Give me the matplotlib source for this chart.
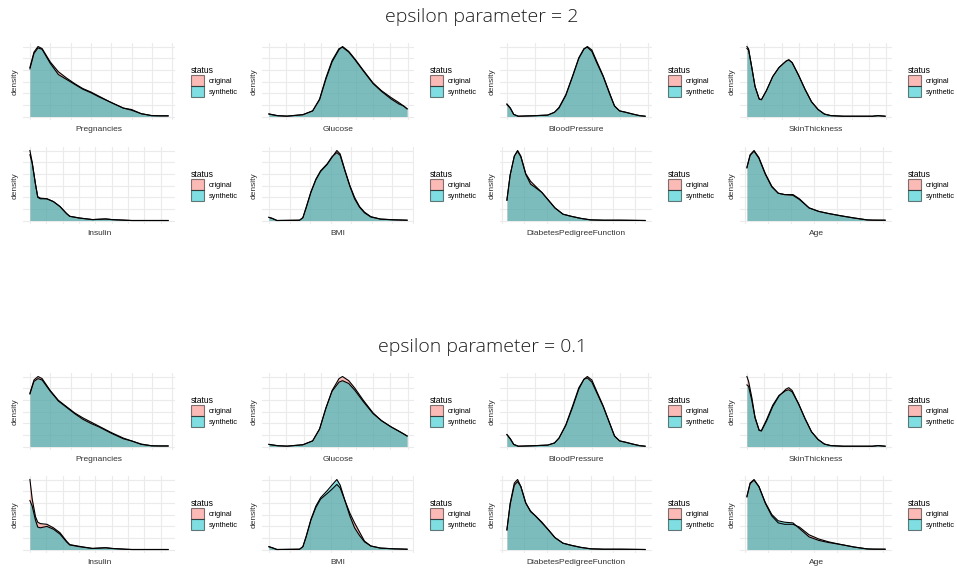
import numpy as np
import matplotlib.pyplot as plt
from matplotlib.patches import Patch
from matplotlib.ticker import MultipleLocator

plt.rcParams['font.family'] = ['Liberation Sans', 'DejaVu Sans']

# relative density curves (peak of each panel ~ 1)
preg_x = [0, 0.5, 1, 1.5, 2.5, 3.5, 4.5, 5.5, 6.5, 7.5, 8.5, 10, 11.5, 12.5, 13.7, 15, 16, 17]
preg_orig_2 = [0.70, 0.92, 1.0, 0.97, 0.78, 0.64, 0.55, 0.47, 0.40, 0.35, 0.29, 0.20, 0.12, 0.10, 0.04, 0.013, 0.01, 0.01]
preg_syn_2 = [0.68, 0.90, 0.98, 0.96, 0.76, 0.60, 0.53, 0.46, 0.39, 0.34, 0.28, 0.20, 0.12, 0.09, 0.04, 0.012, 0.01, 0.01]
preg_orig_01 = [0.76, 0.95, 1.0, 0.97, 0.80, 0.66, 0.57, 0.48, 0.41, 0.35, 0.29, 0.20, 0.12, 0.08, 0.035, 0.01, 0.008, 0.008]
preg_syn_01 = [0.75, 0.93, 0.97, 0.95, 0.79, 0.65, 0.56, 0.47, 0.39, 0.33, 0.28, 0.19, 0.11, 0.08, 0.03, 0.01, 0.008, 0.008]

gluc_x = [0, 12, 26, 49, 63, 73, 82, 91, 101, 106, 115, 124, 136, 150, 162, 176, 187, 194, 199]
gluc_orig_2 = [0.036, 0.013, 0.005, 0.027, 0.08, 0.24, 0.53, 0.78, 0.955, 1.0, 0.93, 0.82, 0.66, 0.48, 0.37, 0.27, 0.20, 0.15, 0.11]
gluc_syn_2 = [0.036, 0.012, 0.005, 0.025, 0.08, 0.25, 0.55, 0.80, 0.97, 0.99, 0.92, 0.81, 0.65, 0.47, 0.36, 0.25, 0.18, 0.15, 0.11]
gluc_orig_01 = [0.03, 0.012, 0.005, 0.025, 0.08, 0.25, 0.54, 0.80, 0.97, 1.0, 0.94, 0.83, 0.66, 0.48, 0.37, 0.28, 0.22, 0.18, 0.15]
gluc_syn_01 = [0.03, 0.012, 0.005, 0.025, 0.08, 0.25, 0.55, 0.79, 0.92, 0.94, 0.90, 0.80, 0.64, 0.47, 0.37, 0.28, 0.22, 0.18, 0.15]

bp_x = [0, 3, 6, 10, 22, 36, 42, 46, 52, 58, 63.5, 68, 71, 75, 79, 85, 91, 95, 99.5, 105, 111, 117, 122]
bp_orig_2 = [0.18, 0.12, 0.03, 0.004, 0.01, 0.02, 0.06, 0.12, 0.30, 0.57, 0.83, 0.96, 1.0, 0.95, 0.80, 0.58, 0.32, 0.15, 0.08, 0.06, 0.035, 0.013, 0.004]
bp_syn_2 = [0.17, 0.12, 0.03, 0.004, 0.01, 0.02, 0.06, 0.13, 0.31, 0.58, 0.84, 0.97, 0.99, 0.93, 0.78, 0.57, 0.31, 0.15, 0.08, 0.06, 0.035, 0.013, 0.004]
bp_orig_01 = [0.17, 0.11, 0.03, 0.004, 0.01, 0.02, 0.05, 0.12, 0.30, 0.56, 0.82, 0.96, 1.0, 0.95, 0.80, 0.58, 0.32, 0.15, 0.08, 0.06, 0.035, 0.013, 0.004]
bp_syn_01 = [0.17, 0.11, 0.03, 0.004, 0.01, 0.02, 0.05, 0.12, 0.31, 0.58, 0.84, 0.96, 0.98, 0.92, 0.78, 0.57, 0.32, 0.15, 0.08, 0.06, 0.035, 0.013, 0.004]

skin_x = [0, 1.2, 3.5, 5.8, 8.8, 10.4, 14, 18.5, 23, 28, 30, 32.4, 37, 41.6, 46.3, 51, 55.5, 60, 69, 90, 94, 99]
skin_orig_2 = [1.0, 0.965, 0.70, 0.43, 0.25, 0.24, 0.37, 0.57, 0.70, 0.79, 0.81, 0.77, 0.59, 0.39, 0.21, 0.10, 0.035, 0.013, 0.004, 0.004, 0.013, 0.004]
skin_syn_2 = [0.97, 0.95, 0.70, 0.43, 0.25, 0.24, 0.37, 0.57, 0.70, 0.79, 0.81, 0.77, 0.59, 0.39, 0.21, 0.10, 0.035, 0.013, 0.004, 0.004, 0.012, 0.004]
skin_orig_01 = [1.0, 0.93, 0.70, 0.42, 0.23, 0.22, 0.36, 0.57, 0.72, 0.82, 0.84, 0.80, 0.61, 0.40, 0.21, 0.10, 0.035, 0.013, 0.004, 0.004, 0.013, 0.004]
skin_syn_01 = [0.88, 0.86, 0.66, 0.41, 0.23, 0.23, 0.38, 0.59, 0.73, 0.80, 0.81, 0.78, 0.61, 0.40, 0.21, 0.10, 0.035, 0.013, 0.004, 0.004, 0.013, 0.004]

ins_x = [0, 14, 34, 48, 64, 104, 144, 184, 224, 244, 303, 383, 463, 503, 583, 623, 846]
ins_orig_2 = [1.0, 0.83, 0.52, 0.33, 0.31, 0.31, 0.27, 0.20, 0.10, 0.06, 0.036, 0.013, 0.022, 0.013, 0.004, 0.0, 0.0]
ins_syn_2 = [0.94, 0.82, 0.52, 0.34, 0.32, 0.31, 0.27, 0.20, 0.10, 0.06, 0.035, 0.013, 0.022, 0.013, 0.004, 0.0, 0.0]
ins_orig_01 = [1.0, 0.72, 0.47, 0.39, 0.37, 0.36, 0.31, 0.24, 0.12, 0.07, 0.045, 0.015, 0.025, 0.015, 0.004, 0.0, 0.0]
ins_syn_01 = [0.70, 0.62, 0.42, 0.32, 0.31, 0.33, 0.29, 0.22, 0.11, 0.065, 0.04, 0.015, 0.025, 0.015, 0.004, 0.0, 0.0]

bmi_x = [0, 1.6, 3.9, 14.9, 16.5, 18.1, 20.4, 22.8, 25.1, 28.3, 30.6, 33.0, 34.6, 36.9, 39.3, 41.6, 44.0, 46.4, 49.5, 54.2, 60.5, 67.1]
bmi_orig_2 = [0.045, 0.03, 0.0, 0.004, 0.04, 0.18, 0.40, 0.58, 0.70, 0.80, 0.90, 1.0, 0.95, 0.72, 0.50, 0.33, 0.20, 0.12, 0.055, 0.02, 0.01, 0.004]
bmi_syn_2 = [0.045, 0.03, 0.0, 0.004, 0.04, 0.19, 0.41, 0.59, 0.71, 0.81, 0.91, 0.97, 0.93, 0.71, 0.49, 0.31, 0.19, 0.11, 0.05, 0.02, 0.01, 0.004]
bmi_orig_01 = [0.04, 0.025, 0.0, 0.004, 0.04, 0.18, 0.42, 0.60, 0.72, 0.80, 0.86, 0.93, 0.88, 0.70, 0.52, 0.38, 0.25, 0.12, 0.05, 0.02, 0.01, 0.004]
bmi_syn_01 = [0.04, 0.025, 0.0, 0.004, 0.04, 0.19, 0.43, 0.62, 0.74, 0.84, 0.92, 1.0, 0.92, 0.70, 0.48, 0.31, 0.20, 0.11, 0.05, 0.02, 0.01, 0.004]

dpf_x = [0.078, 0.133, 0.204, 0.259, 0.314, 0.397, 0.479, 0.562, 0.672, 0.782, 0.892, 1.029, 1.167, 1.332, 1.497, 1.716, 1.991, 2.42]
dpf_orig_2 = [0.29, 0.65, 0.92, 1.0, 0.92, 0.67, 0.56, 0.49, 0.40, 0.29, 0.18, 0.09, 0.06, 0.03, 0.009, 0.004, 0.004, 0.0]
dpf_syn_2 = [0.29, 0.65, 0.92, 0.99, 0.91, 0.66, 0.52, 0.47, 0.40, 0.29, 0.18, 0.09, 0.06, 0.03, 0.009, 0.004, 0.004, 0.0]
dpf_orig_01 = [0.28, 0.66, 0.95, 1.0, 0.90, 0.66, 0.55, 0.48, 0.39, 0.28, 0.17, 0.09, 0.06, 0.03, 0.01, 0.004, 0.004, 0.0]
dpf_syn_01 = [0.28, 0.64, 0.92, 0.97, 0.90, 0.67, 0.54, 0.48, 0.38, 0.28, 0.17, 0.09, 0.06, 0.03, 0.01, 0.004, 0.004, 0.0]

age_x = [21, 22.4, 24.1, 26.2, 29, 31.8, 34.6, 37.4, 41, 43.8, 48, 52.2, 56.4, 62, 67.6, 73.3, 76, 81]
age_orig_2 = [0.76, 0.94, 1.0, 0.90, 0.67, 0.49, 0.39, 0.37, 0.37, 0.31, 0.18, 0.13, 0.10, 0.067, 0.036, 0.008, 0.005, 0.004]
age_syn_2 = [0.75, 0.93, 0.99, 0.89, 0.66, 0.48, 0.39, 0.37, 0.36, 0.30, 0.18, 0.13, 0.10, 0.065, 0.035, 0.008, 0.005, 0.004]
age_orig_01 = [0.76, 0.95, 1.0, 0.90, 0.66, 0.48, 0.38, 0.36, 0.36, 0.32, 0.21, 0.15, 0.11, 0.07, 0.035, 0.008, 0.005, 0.004]
age_syn_01 = [0.75, 0.94, 0.99, 0.90, 0.67, 0.50, 0.41, 0.39, 0.38, 0.30, 0.18, 0.13, 0.10, 0.07, 0.035, 0.008, 0.005, 0.004]

variables = ['Pregnancies', 'Glucose', 'BloodPressure', 'SkinThickness',
             'Insulin', 'BMI', 'DiabetesPedigreeFunction', 'Age']
x_values = [preg_x, gluc_x, bp_x, skin_x, ins_x, bmi_x, dpf_x, age_x]
grid_steps = [2.5, 25, 25, 12.5, 100, 10, 0.375, 10]
eps_titles = ['epsilon parameter = 2', 'epsilon parameter = 0.1']
orig_curves = [
    [preg_orig_2, gluc_orig_2, bp_orig_2, skin_orig_2, ins_orig_2, bmi_orig_2, dpf_orig_2, age_orig_2],
    [preg_orig_01, gluc_orig_01, bp_orig_01, skin_orig_01, ins_orig_01, bmi_orig_01, dpf_orig_01, age_orig_01],
]
syn_curves = [
    [preg_syn_2, gluc_syn_2, bp_syn_2, skin_syn_2, ins_syn_2, bmi_syn_2, dpf_syn_2, age_syn_2],
    [preg_syn_01, gluc_syn_01, bp_syn_01, skin_syn_01, ins_syn_01, bmi_syn_01, dpf_syn_01, age_syn_01],
]

pink = '#F8766D'
teal = '#00BFC4'
W, H = 957, 570

fig = plt.figure(figsize=(W / 100, H / 100), dpi=100)

col_left = [23, 262, 500, 740]
block_rows = [[43, 147], [373, 476]]
title_y = [17, 347]
panel_w, panel_h = 152, 77


def draw_panel(ax, x, orig, syn, name, step):
    ax.fill_between(x, orig, color=pink, alpha=0.5, lw=0)
    ax.plot(x, orig, color='black', lw=0.8)
    ax.fill_between(x, syn, color=teal, alpha=0.5, lw=0)
    ax.plot(x, syn, color='black', lw=0.8)
    xr = x[-1] - x[0]
    ax.set_xlim(x[0] - 0.05 * xr, x[-1] + 0.05 * xr)
    ymax = max(max(orig), max(syn))
    ax.set_ylim(-0.05 * ymax, 1.05 * ymax)
    ax.xaxis.set_major_locator(MultipleLocator(step))
    ax.yaxis.set_major_locator(MultipleLocator(ymax / 6))
    ax.grid(color='#ebebeb', lw=0.8)
    ax.set_axisbelow(True)
    ax.tick_params(length=0, labelbottom=False, labelleft=False)
    for s in ax.spines.values():
        s.set_visible(False)
    ax.set_xlabel(name, fontsize=6, color='#333333', labelpad=4)
    ax.set_ylabel('density', fontsize=6, color='#333333', labelpad=3)
    handles = [Patch(facecolor=pink, alpha=0.5, edgecolor='black', lw=0.8, label='original'),
               Patch(facecolor=teal, alpha=0.5, edgecolor='black', lw=0.8, label='synthetic')]
    leg = ax.legend(handles=handles, title='status', loc='center left',
                    bbox_to_anchor=(1.08, 0.5), frameon=False, fontsize=5.3,
                    title_fontsize=6.2, handlelength=1.8, handleheight=1.9,
                    labelspacing=0.0, handletextpad=0.6, borderpad=0,
                    alignment='left')
    for p in leg.get_patches():
        p.set_edgecolor('black')


for b in range(2):
    fig.text(482 / W, 1 - title_y[b] / H, eps_titles[b], ha='center', va='center',
             fontsize=14, family=['Open Sans', 'DejaVu Sans'], fontweight='light',
             color='#1e1e1e')
    for i, name in enumerate(variables):
        r, c = divmod(i, 4)
        top = block_rows[b][r]
        ax = fig.add_axes([col_left[c] / W, 1 - (top + panel_h) / H, panel_w / W, panel_h / H])
        draw_panel(ax, x_values[i], orig_curves[b][i], syn_curves[b][i], name, grid_steps[i])

fig.savefig('out.png', dpi=100)
